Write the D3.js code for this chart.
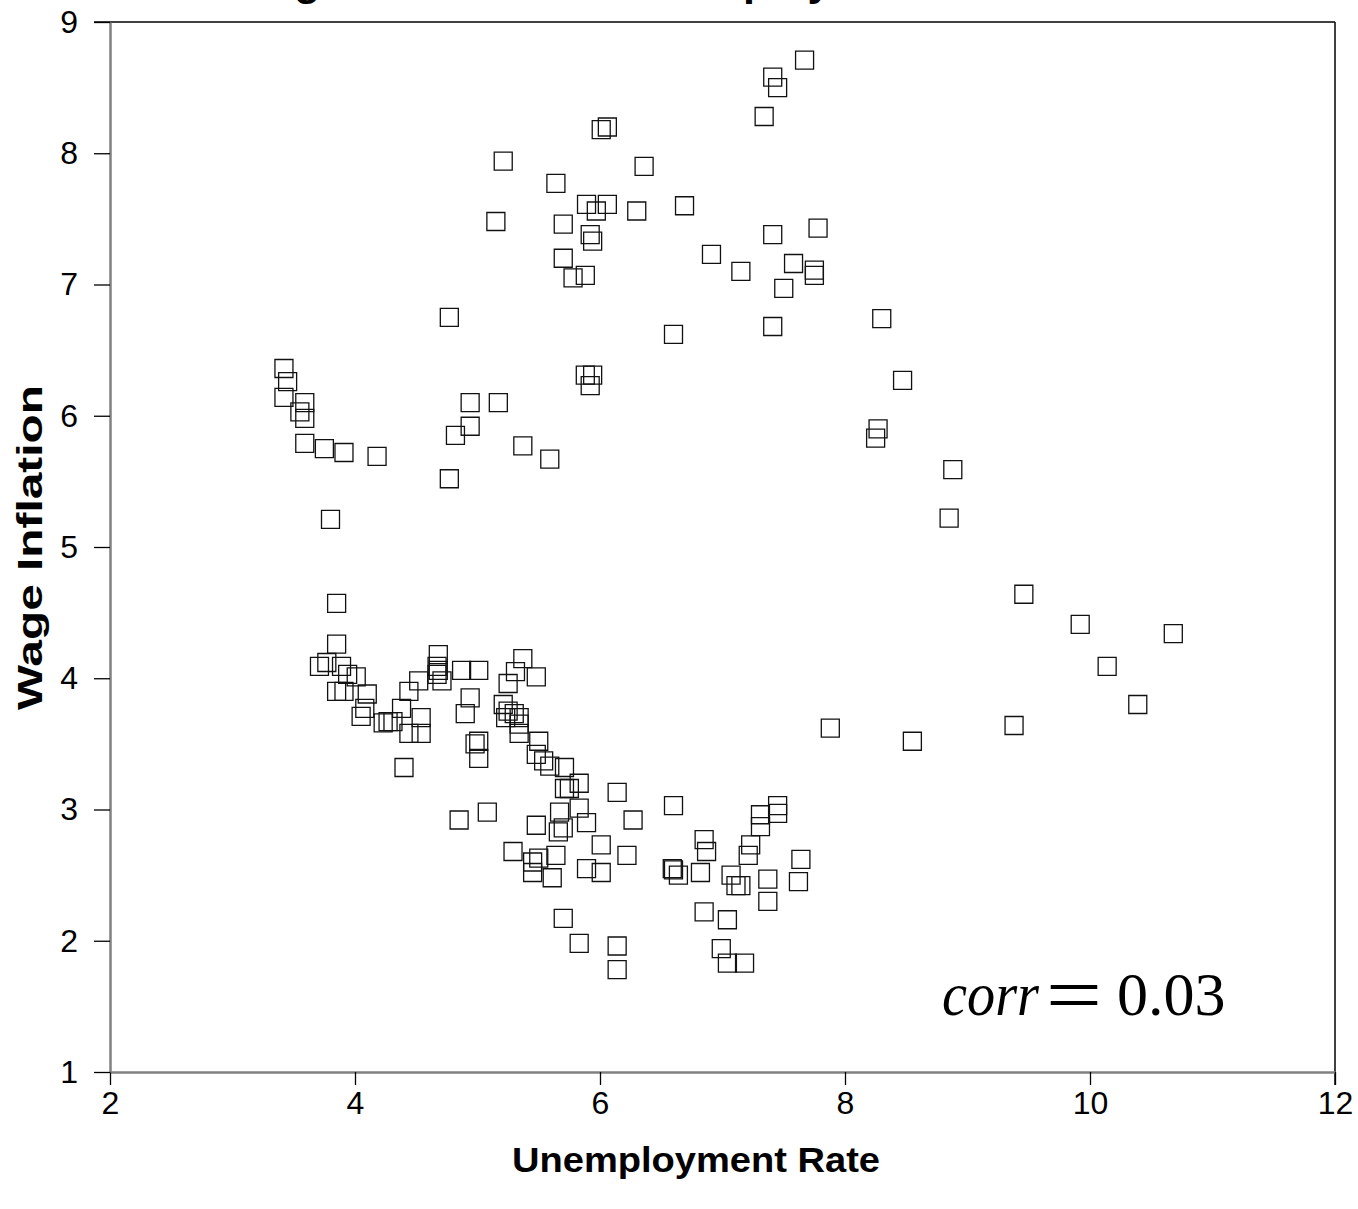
<!DOCTYPE html>
<html>
<head>
<meta charset="utf-8">
<script src="https://cdn.jsdelivr.net/npm/d3@7"></script>
<style>
	body { margin: 0; background: #fff; }
	svg { display: block; }
</style>
</head>
<body>
<div id="chart"></div>
<script>
// values (unemployment %, wage inflation %)
var unemployment = [
	7.67, 7.41, 7.45, 7.34, 6.01, 6.06, 5.21, 6.36, 5.64, 5.89, 6.06, 5.97, 6.30, 6.69, 5.15, 5.70,
	5.92, 5.94, 7.41, 7.78, 5.70, 6.91, 5.88, 5.78, 7.15, 7.58, 7.75, 7.75, 7.50, 4.77, 6.60, 7.41,
	8.30, 8.47, 8.27, 8.25, 8.88, 8.85, 9.46, 9.92, 10.68, 10.14, 10.39, 9.38, 7.88, 8.55,
	4.94, 5.17, 4.94, 4.82, 5.37, 5.59, 4.77, 5.88, 5.94, 5.92,
	3.42, 3.45, 3.42, 3.59, 3.55, 3.59, 3.59, 3.75, 3.91, 4.18, 3.80,
	3.85, 3.85, 3.77, 3.71, 3.89, 3.94, 4.01, 4.10, 3.85, 3.91, 4.08, 4.05, 4.23, 4.27, 4.31,
	4.54, 4.38, 4.44, 4.52, 4.68, 4.67, 4.68, 4.67, 4.71, 4.87, 5.01, 4.94, 4.90, 4.44, 4.54,
	4.40, 5.01, 4.98, 5.01, 5.37, 5.31, 5.48, 5.25, 5.21, 5.25, 5.30, 5.34, 5.23, 5.34, 5.34,
	5.50, 5.48, 5.54, 5.59, 5.71, 5.83, 5.71, 5.75, 6.14, 6.60, 6.27, 5.83, 5.67, 5.89, 5.48,
	5.70, 5.66, 4.85, 5.08, 6.01, 6.22, 5.29, 5.45, 5.50, 5.45, 5.64, 5.61, 5.89, 6.01,
	7.45, 7.45, 7.31, 7.31, 7.23, 7.21, 6.85, 6.87, 6.59, 6.60, 6.64, 6.82, 7.07, 7.11, 7.15,
	7.37, 7.64, 7.62, 7.37, 6.85, 7.04, 5.70, 5.83, 6.14, 6.14, 6.99, 7.04, 7.18
];
var wageInflation = [
	8.71, 8.58, 8.50, 8.28, 8.18, 8.20, 7.94, 7.90, 7.77, 7.61, 7.61, 7.56, 7.56, 7.60, 7.48, 7.46,
	7.38, 7.33, 7.38, 7.43, 7.20, 7.23, 7.07, 7.05, 7.10, 7.16, 7.11, 7.07, 6.97, 6.75, 6.62, 6.68,
	6.74, 6.27, 5.90, 5.83, 5.59, 5.22, 4.64, 4.41, 4.34, 4.09, 3.80, 3.64, 3.62, 3.52,
	6.10, 6.10, 5.92, 5.85, 5.77, 5.67, 5.52, 6.31, 6.31, 6.23,
	6.36, 6.26, 6.14, 6.10, 6.03, 5.98, 5.79, 5.75, 5.72, 5.69, 5.21,
	4.57, 4.26, 4.12, 4.09, 4.09, 4.03, 4.01, 3.88, 3.90, 3.90, 3.77, 3.71, 3.66, 3.67, 3.67,
	3.70, 3.77, 3.90, 3.98, 4.18, 4.09, 4.06, 4.03, 3.98, 4.06, 4.06, 3.85, 3.73, 3.58, 3.58,
	3.32, 3.52, 3.50, 3.39, 4.15, 4.05, 4.01, 3.96, 3.80, 3.75, 3.73, 3.70, 3.70, 3.65, 3.58,
	3.52, 3.42, 3.37, 3.33, 3.32, 3.20, 3.16, 3.16, 3.13, 3.03, 2.92, 3.01, 2.98, 2.90, 2.88,
	2.86, 2.83, 2.92, 2.98, 2.73, 2.65, 2.68, 2.60, 2.63, 2.52, 2.65, 2.48, 2.55, 2.52,
	3.03, 2.97, 2.96, 2.87, 2.73, 2.65, 2.77, 2.68, 2.55, 2.54, 2.50, 2.52, 2.50, 2.42, 2.42,
	2.47, 2.62, 2.45, 2.30, 2.22, 2.16, 2.17, 1.98, 1.96, 1.78, 1.94, 1.83, 1.83
];
var xTicks = [2, 4, 6, 8, 10, 12];
var yTicks = [1, 2, 3, 4, 5, 6, 7, 8, 9];

var width = 1358, height = 1209;
var margin = {top: 22, right: 23, bottom: 137, left: 110};
var plotW = width - margin.left - margin.right;
var plotH = height - margin.top - margin.bottom;

var svg = d3.select("#chart").append("svg")
	.attr("width", width)
	.attr("height", height);

var x = d3.scaleLinear().domain([2, 12]).range([0, plotW]);
var y = d3.scaleLinear().domain([1, 9]).range([plotH, 0]);

var g = svg.append("g")
	.attr("transform", "translate(" + margin.left + "," + margin.top + ")");

// title sits mostly above the page, only descenders show
svg.append("text")
	.attr("x", 231)
	.attr("y", -5)
	.attr("font-family", "Liberation Sans, Arial, sans-serif")
	.attr("font-weight", "bold")
	.attr("font-size", 43)
	.text("Wage Inflation and Unemployment");

// frame: top and right in black
g.append("line")
	.attr("x1", -16).attr("x2", plotW)
	.attr("y1", 0).attr("y2", 0)
	.attr("stroke", "#000").attr("stroke-width", 1.5);
g.append("line")
	.attr("x1", plotW).attr("x2", plotW)
	.attr("y1", 0).attr("y2", plotH + 13)
	.attr("stroke", "#000").attr("stroke-width", 1.5);

var xAxis = g.append("g")
	.attr("transform", "translate(0," + plotH + ")")
	.call(d3.axisBottom(x).tickValues(xTicks).tickSize(13).tickPadding(6).tickSizeOuter(0));
var yAxis = g.append("g")
	.call(d3.axisLeft(y).tickValues(yTicks).tickSize(16).tickPadding(16).tickSizeOuter(0));

[xAxis, yAxis].forEach(function(ax) {
	ax.select(".domain").attr("stroke", "#808080").attr("stroke-width", 2.5);
	ax.selectAll(".tick line").attr("stroke", "#000").attr("stroke-width", 1.3);
	ax.selectAll(".tick text")
		.attr("fill", "#000")
		.attr("font-family", "Liberation Sans, Arial, sans-serif")
		.attr("font-size", 32);
});

g.selectAll(".pt")
	.data(d3.range(unemployment.length))
	.enter().append("path")
	.attr("class", "pt")
	.attr("d", d3.symbol(d3.symbolSquare, 18 * 18))
	.attr("transform", function(i) {
		return "translate(" + x(unemployment[i]) + "," + y(wageInflation[i]) + ")";
	})
	.attr("fill", "none")
	.attr("stroke", "#111")
	.attr("stroke-width", 1.3);

// axis titles are stretched along their length in the picture
svg.append("text")
	.attr("x", 512)
	.attr("y", 1172)
	.attr("textLength", 368)
	.attr("lengthAdjust", "spacingAndGlyphs")
	.attr("font-family", "Liberation Sans, Arial, sans-serif")
	.attr("font-weight", "bold")
	.attr("font-size", 35)
	.text("Unemployment Rate");

svg.append("text")
	.attr("transform", "translate(42,710) rotate(-90)")
	.attr("textLength", 325)
	.attr("lengthAdjust", "spacingAndGlyphs")
	.attr("font-family", "Liberation Sans, Arial, sans-serif")
	.attr("font-weight", "bold")
	.attr("font-size", 35)
	.text("Wage Inflation");

// corr = 0.03, equation style
var eq = svg.append("g")
	.attr("font-family", "Liberation Serif, Times New Roman, serif")
	.attr("fill", "#000");
eq.append("text")
	.attr("x", 942).attr("y", 1015)
	.attr("textLength", 97)
	.attr("lengthAdjust", "spacingAndGlyphs")
	.attr("font-size", 62)
	.attr("font-style", "italic")
	.text("corr");
eq.append("text")
	.attr("transform", "translate(1074,1022) scale(1.25,1)")
	.attr("text-anchor", "middle")
	.attr("font-size", 80)
	.text("=");
eq.append("text")
	.attr("x", 1117).attr("y", 1015)
	.attr("font-size", 62)
	.text("0.03");
</script>
</body>
</html>
